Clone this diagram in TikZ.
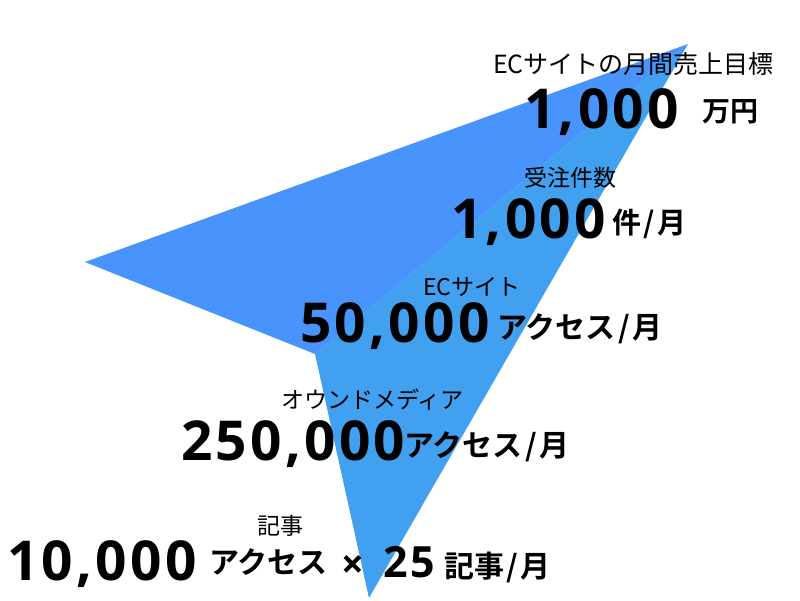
\documentclass[tikz,border=0pt]{standalone}
\usepackage{fontspec}
\setmainfont{Noto Sans CJK JP}[BoldFont={Noto Sans CJK JP Bold}]
\newfontfamily\numfont{Open Sans}[LetterSpace=6]
\usetikzlibrary{positioning}

\definecolor{wingblue}{RGB}{72,147,252}
\definecolor{bodyblue}{RGB}{66,160,240}

\newcommand{\perslash}{\kern2.5pt/\kern2.5pt}

\tikzset{
  lbl/.style={anchor=base west, inner sep=0pt, font=\fontsize{#1}{#1}\selectfont},
  lbl/.default=23,
  num/.style={anchor=base west, inner sep=0pt, font=\numfont\bfseries\fontsize{#1}{#1}\selectfont},
  num/.default=55,
  unit/.style={anchor=base west, inner sep=0pt, font=\bfseries\fontsize{#1}{#1}\selectfont},
  unit/.default=30
}

\begin{document}
\begin{tikzpicture}[x=1pt, y=-1pt]
\useasboundingbox (0,0) rectangle (800,600);

\coordinate (tip) at (688,44);
\coordinate (wing) at (85,262);
\coordinate (notch) at (315,354);
\coordinate (tail) at (369,598);

\fill[bodyblue] (tip) -- (notch) -- (tail) -- cycle;
\fill[wingblue] (tip) -- (wing) -- (notch) -- cycle;

\node[lbl=25] (goal) at (493,73) {ECサイトの月間売上目標};
\node[num] (sales) at (524,128) {1,000};
\node[unit=28] (salesunit) at (702,121.5) {万円};

\node[lbl] (orders) at (524,186.5) {受注件数};
\node[num] (ordernum) at (451,238) {1,000};
\node[unit=29] (orderunit) at (612,233.5) {件\perslash 月};

\node[lbl] (site) at (423,295) {ECサイト};
\node[num] (sitenum) at (300,342) {50,000};
\node[unit] (siteunit) at (497,338.5) {アクセス\perslash 月};

\node[lbl] (media) at (281,408.5) {オウンドメディア};
\node[num] (medianum) at (181,460) {250,000};
\node[unit] (mediaunit) at (404,456.5) {アクセス\perslash 月};

\node[lbl] (post) at (257,534) {記事};
\node[num] (postnum) at (7,580) {10,000};
\node[unit] (postunit) at (209,573.5) {アクセス};
\node[inner sep=0pt, font=\numfont\bfseries\fontsize{40}{40}\selectfont] (times) at (353,567) {×};
\node[num=43] (count) at (383,577) {25};
\node[unit] (countunit) at (444,577.5) {記事\perslash 月};

\end{tikzpicture}
\end{document}
